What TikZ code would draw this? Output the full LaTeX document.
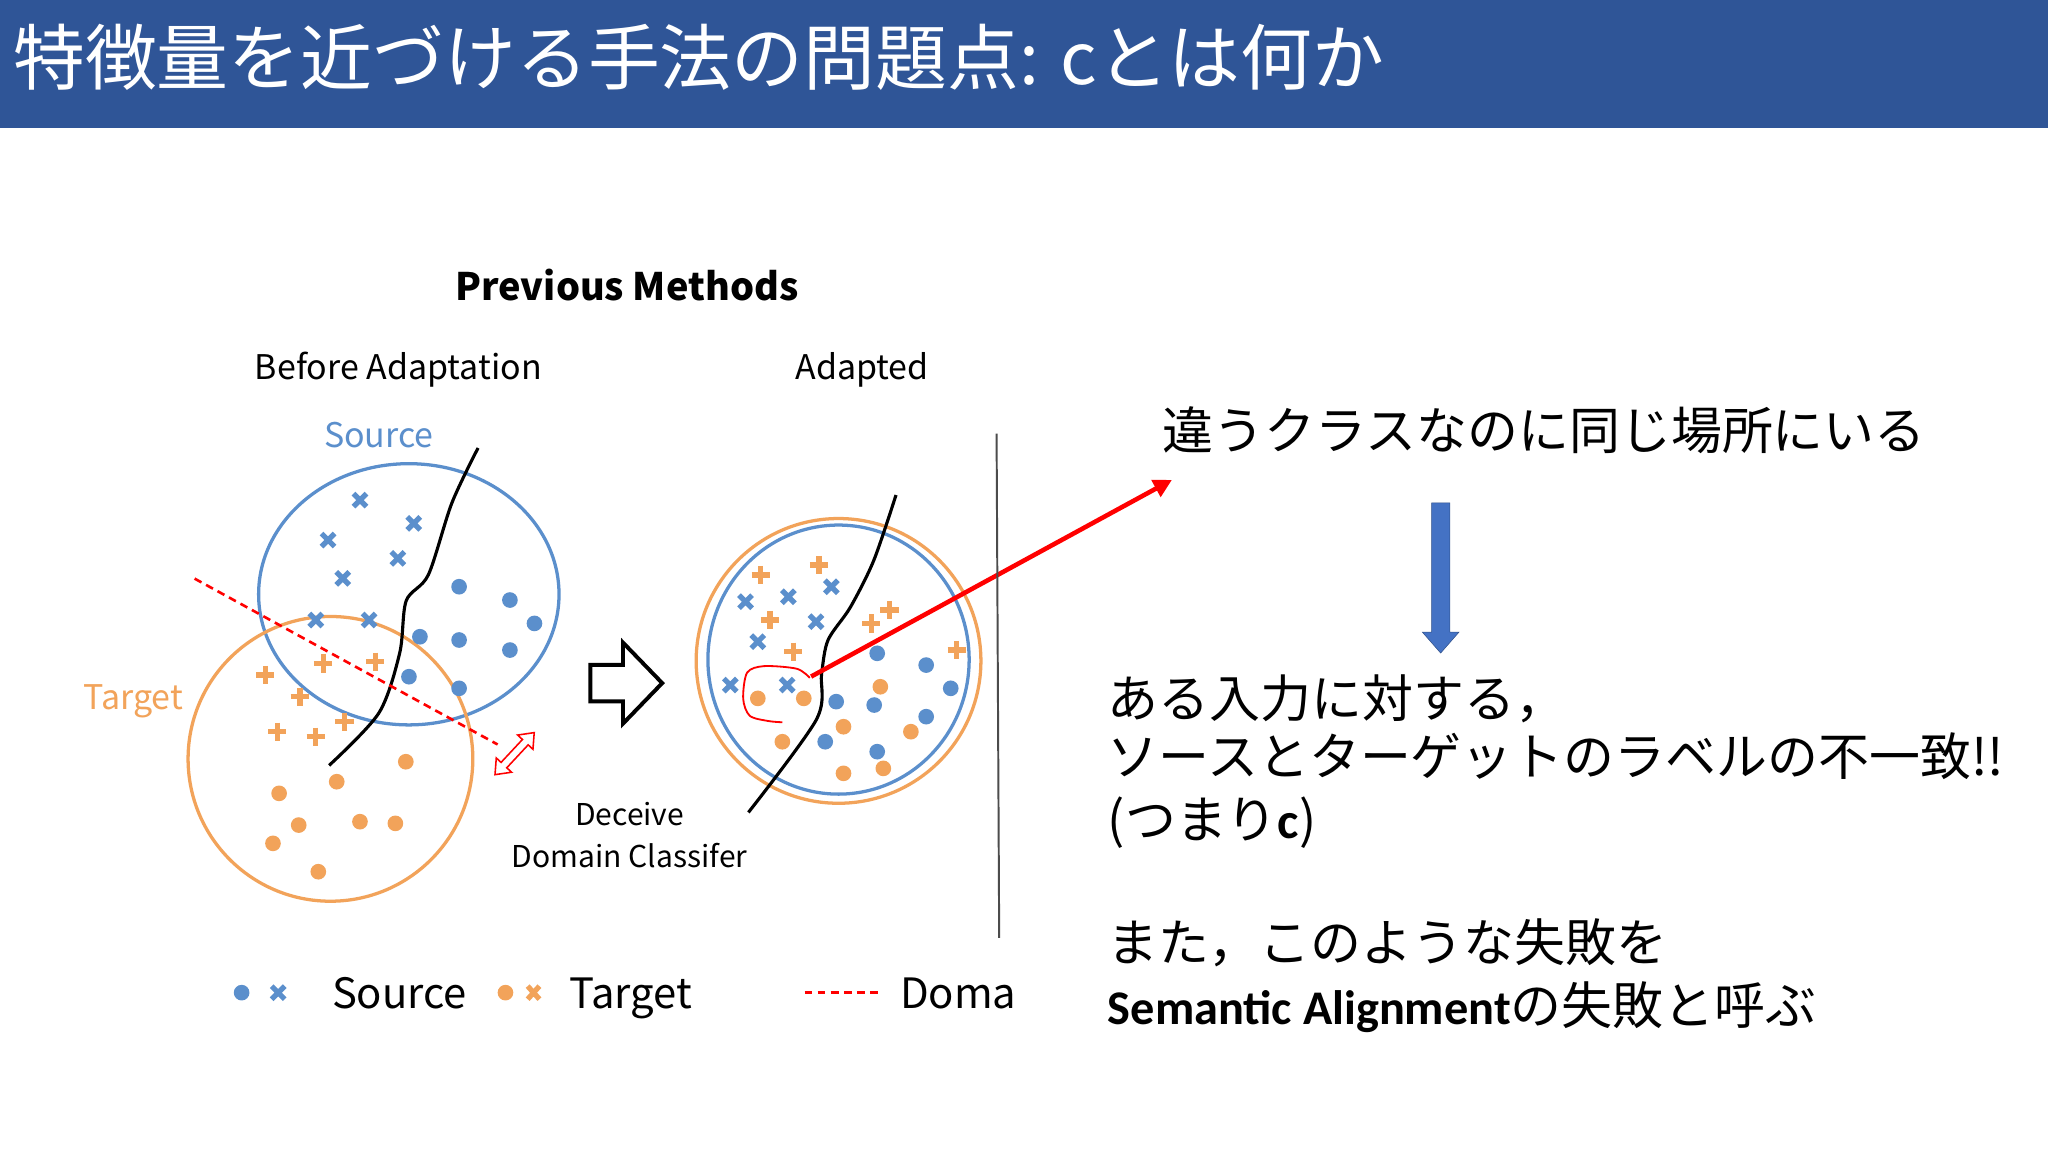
\documentclass[tikz,border=0pt]{standalone}
\usepackage{fontspec}
\setmainfont{Carlito}
\newfontfamily\jp{Noto Sans CJK JP}
\usetikzlibrary{arrows.meta}
\definecolor{barblue}{HTML}{2F5597}
\definecolor{sblue}{HTML}{5B8FCC}
\definecolor{torange}{HTML}{F2A35A}
\definecolor{arrblue}{HTML}{4472C4}
\tikzset{
  bdot/.style={fill=sblue,draw=none},
  odot/.style={fill=torange,draw=none},
  lab/.style={font=\jp\fontsize{26}{30}\selectfont,inner sep=0pt},
  rtext/.style={font=\jp\fontsize{39}{44}\selectfont,anchor=base west,inner sep=0pt},
  reddash/.style={red,line width=2pt,dash pattern=on 6pt off 4pt},
}
\newcommand{\crossmk}[2]{\draw[sblue,line width=4pt] (#1-5,#2-5)--(#1+5,#2+5) (#1-5,#2+5)--(#1+5,#2-5);}
\newcommand{\plusmk}[2]{\draw[torange,line width=4pt] (#1-7,#2)--(#1+7,#2) (#1,#2-7)--(#1,#2+7);}
\begin{document}
\begin{tikzpicture}[x=1pt,y=-1pt]
\useasboundingbox (0,0) rectangle (1568,882);
\fill[white] (0,0) rectangle (1568,882);
\fill[barblue] (0,0) rectangle (1568,98);
\node[anchor=west,text=white,inner sep=0pt,font=\jp\fontsize{55}{60}\selectfont] (title) at (10,44) {特徴量を近づける手法の問題点: cとは何か};
% headings
\node[lab,font=\jp\bfseries\fontsize{29}{32}\selectfont] (prev) at (480,218) {Previous Methods};
\node[lab] (before) at (305,283) {Before Adaptation};
\node[lab] (adapted) at (660,283) {Adapted};
\node[lab,text=sblue] (srcl) at (290,333) {Source};
\node[lab,text=torange] (tgtl) at (102,537) {Target};
% left ellipses
\draw[sblue,line width=2.5pt] (313,455) ellipse [x radius=115,y radius=100];
\draw[torange,line width=2.5pt] (253,581) ellipse [x radius=109,y radius=109];
% left points
\foreach \a/\b in {275.6/382.9,316.8/400.7,251.2/413.5,304.6/427.5,262.4/442.8,241.8/474.7,282.6/474.7} {\crossmk{\a}{\b}}
\foreach \a/\b in {351.5/449.2,390.4/459.4,409.2/477.3,321.5/487.5,351.5/490,390.4/497.7,313.1/518.1,351.5/527} {\fill[bdot] (\a,\b) circle (6);}
\foreach \a/\b in {247.4/507.9,287.3/506.6,203/516.8,229.6/533.4,212.3/560.2,241.8/564,263.8/552.6} {\plusmk{\a}{\b}}
\foreach \a/\b in {310.7/583.2,257.8/598.5,213.7/607.4,228.7/631.7,275.6/629.1,302.7/630.4,209/645.7,243.7/667.4} {\fill[odot] (\a,\b) circle (6);}
\draw[black,line width=2.4pt] plot[smooth] coordinates {(366,343) (346,385) (328,440) (311,460) (306,500) (290,546) (252,586)};
\draw[reddash] (149,443) -- (381,570);
\begin{scope}[shift={(394,577)},rotate=47]
\draw[red,line width=1.2pt,fill=white] (-22,0) -- (-12,8) -- (-12,3) -- (12,3) -- (12,8) -- (22,0) -- (12,-8) -- (12,-3) -- (-12,-3) -- (-12,-8) -- cycle;
\end{scope}
% hollow arrow
\draw[black,line width=3pt,fill=white] (452,509) -- (477,509) -- (477,492) -- (507,523) -- (477,554) -- (477,537) -- (452,537) -- cycle;
% right ellipses
\draw[torange,line width=2.5pt] (642,506) ellipse [x radius=109,y radius=109];
\draw[sblue,line width=2.5pt] (642,505) ellipse [x radius=100,y radius=103];
\foreach \a/\b in {570.8/460.7,603.6/456.9,636.5/449.2,624.8/476,580.2/491.3,559.1/524.5,602.7/524.5} {\crossmk{\a}{\b}}
\foreach \a/\b in {582.5/440.3,627.1/432.6,681/467.1,667/477.3,589.6/474.7,607.4/499,732.5/497.7} {\plusmk{\a}{\b}}
\foreach \a/\b in {671.6/500.2,709.1/509.2,727.9/527,640.2/537.2,669.3/539.8,709.1/548.7,631.8/567.9,671.6/575.5} {\fill[bdot] (\a,\b) circle (6);}
\foreach \a/\b in {580.2/534.7,615.4/534.7,674/525.8,645.8/556.4,697.4/560.2,599/567.9,645.8/592.1,676.3/588.3} {\fill[odot] (\a,\b) circle (6);}
\draw[black,line width=2.4pt] plot[smooth] coordinates {(686,379) (669,429) (651,465) (634,490) (629,516) (625,551) (573,622)};
% red loop
\draw[red,line width=1.4pt] plot[smooth] coordinates {(620,519) (610,512) (585,510) (572,515) (569,535) (574,548) (588,552) (599,553)};
\coordinate (loopend) at (621,518);
\node[inner sep=0pt] (mistarget) at (898,367) {};
\draw[red,line width=3.5pt,-{Triangle[length=14pt,width=14pt]}] (loopend) -- (mistarget);
\node[lab,font=\jp\fontsize{23}{26}\selectfont] (dec1) at (482,623) {Deceive};
\node[lab,font=\jp\fontsize{23}{26}\selectfont] (dec2) at (482,655) {Domain Classifer};
% divider
\draw[black!70,line width=1.5pt] (763,332) -- (765,718);
% legend
\fill[sblue] (185,760) circle (6);
\crossmk{213}{760}
\node[lab,anchor=base west,font=\jp\fontsize{32}{36}\selectfont] (lsrc) at (254,772) {Source};
\fill[torange] (387,760) circle (6);
\draw[torange,line width=4pt] (404,755)--(413,765) (404,765)--(413,755);
\node[lab,anchor=base west,font=\jp\fontsize{32}{36}\selectfont] (ltgt) at (436,772) {Target};
\draw[reddash] (616,760) -- (672,760);
\begin{scope}
\clip (680,730) rectangle (776,800);
\node[lab,anchor=base west,font=\jp\fontsize{32}{36}\selectfont] (ldom) at (689,772) {Domain};
\end{scope}
% right text
\node[rtext] (t1) at (890,344) {違うクラスなのに同じ場所にいる};
\fill[arrblue,draw=arrblue!70!black] (1096,385) -- (1110,385) -- (1110,484) -- (1117,484) -- (1103,500) -- (1089,484) -- (1096,484) -- cycle;
\node[rtext] (t2) at (848,549) {ある入力に対する，};
\node[rtext] (t3) at (848,594) {ソースとターゲットのラベルの不一致!!};
\node[rtext] (t4) at (848,642) {(つまり{\fontspec{Carlito}\bfseries c})};
\node[rtext] (t5) at (848,736) {また，このような失敗を};
\node[rtext] (t6) at (848,784) {{\fontspec{Carlito}\bfseries\fontsize{37}{40}\selectfont Semantic Alignment}の失敗と呼ぶ};
\end{tikzpicture}
\end{document}
